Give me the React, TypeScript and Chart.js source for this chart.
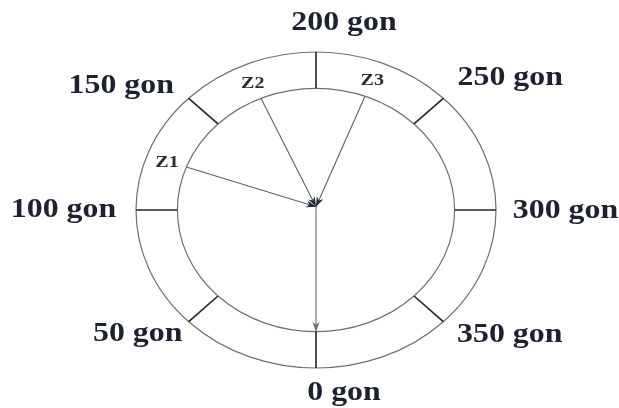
import { useEffect, useRef } from "react";
import { Chart, registerables } from "chart.js";

Chart.register(...registerables);

// ---- data ----
const tickAngles = [0, 50, 100, 150, 200, 250, 300, 350]; // gon
const tickLabels = ["0 gon", "50 gon", "100 gon", "150 gon", "200 gon", "250 gon", "300 gon", "350 gon"];
const ringRadii = [0.77, 1]; // inner, outer ring (unit = outer)
const targetNames = ["Z1", "Z2", "Z3"];
const targetAngles = [123, 174, 223]; // gon
const referenceAngles = [0]; // arrow towards 0 gon
const originPoint = [0, 0.02];

// ---- layout (pixels) ----
const labelNudges = [
  [28, 32],
  [-51, 19],
  [-72.5, 7],
  [-67.5, -5],
  [28, -22],
  [67, -13],
  [69.5, 8],
  [66.5, 20],
];
const TEXT_COLOR = "#1d2130";
const TEXT_STRETCH = 1.18;

function gonToXY(g: number, r: number) {
  const rad = (g * Math.PI) / 200;
  return { x: -r * Math.sin(rad), y: -r * Math.cos(rad) };
}

const innerR = ringRadii[0];
const outerR = ringRadii[1];
const origin = { x: originPoint[0], y: originPoint[1] };

export default function App() {
  const ref = useRef<HTMLCanvasElement | null>(null);

  useEffect(() => {
    if (!ref.current) return;

    const tickSets = tickAngles.map((g) => ({
      label: "tick" + g,
      data: [gonToXY(g, innerR), gonToXY(g, outerR)],
      showLine: true,
      borderColor: "#222222",
      borderWidth: 1.6,
      pointRadius: 0,
    }));

    const targetSets = targetAngles.map((g, i) => ({
      label: targetNames[i],
      data: [gonToXY(g, innerR), origin],
      showLine: true,
      borderColor: "#5d616c",
      borderWidth: 1.1,
      pointRadius: 0,
    }));

    const refSets = referenceAngles.map((g) => ({
      label: "ref" + g,
      data: [origin, gonToXY(g, innerR)],
      showLine: true,
      borderColor: "#6a6e78",
      borderWidth: 1.1,
      pointRadius: 0,
    }));

    const arrowSets = [...targetSets, ...refSets];
    const arrowStart = tickSets.length;

    const ringPlugin = {
      id: "ring",
      beforeDatasetsDraw(chart: any) {
        const { ctx, scales } = chart;
        const xs = scales.x;
        const ys = scales.y;
        const cx = xs.getPixelForValue(0);
        const cy = ys.getPixelForValue(0);
        ctx.save();
        ctx.strokeStyle = "#707070";
        ctx.lineWidth = 1.2;
        ringRadii.forEach((r) => {
          const rx = xs.getPixelForValue(r) - cx;
          const ry = cy - ys.getPixelForValue(r);
          ctx.beginPath();
          ctx.ellipse(cx, cy, rx, ry, 0, 0, Math.PI * 2);
          ctx.stroke();
        });
        ctx.restore();
      },
    };

    const drawStretched = (ctx: any, text: string, x: number, y: number) => {
      ctx.save();
      ctx.translate(x, y);
      ctx.scale(TEXT_STRETCH, 1);
      ctx.fillText(text, 0, 0);
      ctx.restore();
    };

    const labelPlugin = {
      id: "labels",
      afterDatasetsDraw(chart: any) {
        const { ctx, scales } = chart;
        const xs = scales.x;
        const ys = scales.y;
        ctx.save();
        // arrowheads
        arrowSets.forEach((ds, i) => {
          const meta = chart.getDatasetMeta(arrowStart + i);
          const a = meta.data[0];
          const b = meta.data[1];
          const ang = Math.atan2(b.y - a.y, b.x - a.x);
          const len = 10;
          const half = 3.6;
          ctx.save();
          ctx.translate(b.x, b.y);
          ctx.rotate(ang);
          ctx.beginPath();
          ctx.moveTo(0, 0);
          ctx.lineTo(-len, -half);
          ctx.lineTo(-len * 0.7, 0);
          ctx.lineTo(-len, half);
          ctx.closePath();
          ctx.fillStyle = i < targetSets.length ? "#262a38" : "#6a6e78";
          ctx.fill();
          ctx.restore();
        });

        // gon labels
        ctx.fillStyle = TEXT_COLOR;
        ctx.textAlign = "center";
        ctx.textBaseline = "alphabetic";
        ctx.font = "bold 27px 'Liberation Serif', 'Times New Roman', serif";
        tickAngles.forEach((g, i) => {
          const p = gonToXY(g, outerR);
          const px = xs.getPixelForValue(p.x) + labelNudges[i][0];
          const py = ys.getPixelForValue(p.y) + labelNudges[i][1];
          drawStretched(ctx, tickLabels[i], px, py);
        });

        // target labels in the middle of the ring
        ctx.font = "bold 17px 'Liberation Serif', 'Times New Roman', serif";
        ctx.fillStyle = "#2a2e3c";
        const midR = (innerR + outerR) / 2;
        targetAngles.forEach((g, i) => {
          const p = gonToXY(g, midR);
          const px = xs.getPixelForValue(p.x);
          const py = ys.getPixelForValue(p.y) + 6;
          drawStretched(ctx, targetNames[i], px, py);
        });
        ctx.restore();
      },
    };

    const chart = new Chart(ref.current, {
      type: "scatter",
      data: { datasets: [...tickSets, ...arrowSets] as any },
      options: {
        animation: false,
        responsive: false,
        maintainAspectRatio: false,
        layout: { padding: 0 },
        plugins: { legend: { display: false }, tooltip: { enabled: false } },
        scales: {
          x: { type: "linear", display: false, min: -1.7556, max: 1.6833 },
          y: { type: "linear", display: false, min: -1.2532, max: 1.3291 },
        },
      },
      plugins: [ringPlugin, labelPlugin],
    });

    return () => chart.destroy();
  }, []);

  return (
    <div style={{ position: "absolute", left: 0, top: 0, width: 619, height: 408, background: "#ffffff" }}>
      <canvas ref={ref} width={619} height={408} style={{ display: "block" }} />
    </div>
  );
}
